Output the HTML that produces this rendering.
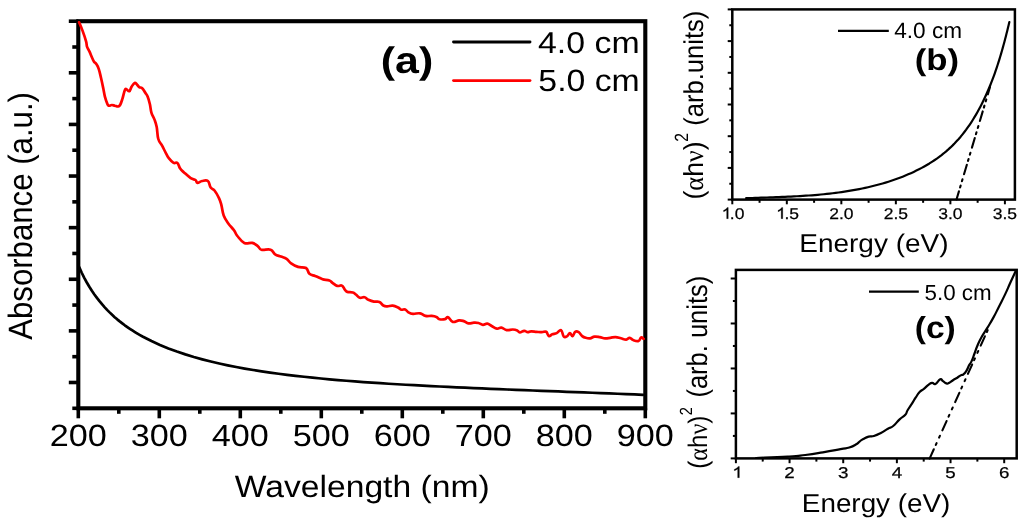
<!DOCTYPE html>
<html><head><meta charset="utf-8"><style>
html,body{margin:0;padding:0;background:#fff;overflow:hidden;}
svg{display:block;will-change:transform;}
text{font-family:"Liberation Sans", sans-serif;fill:#000;text-rendering:geometricPrecision;}
</style></head><body>
<svg width="1024" height="525" viewBox="0 0 1024 525">
<rect width="1024" height="525" fill="#fff"/>
<rect x="78.3" y="21.2" width="567" height="387.1" fill="none" stroke="#000" stroke-width="4.1"/>
<line x1="72.3" y1="408.3" x2="78.3" y2="408.3" stroke="#000" stroke-width="3.6"/>
<line x1="68.8" y1="382.49" x2="78.3" y2="382.49" stroke="#000" stroke-width="3.6"/>
<line x1="72.3" y1="356.69" x2="78.3" y2="356.69" stroke="#000" stroke-width="3.6"/>
<line x1="68.8" y1="330.88" x2="78.3" y2="330.88" stroke="#000" stroke-width="3.6"/>
<line x1="72.3" y1="305.07" x2="78.3" y2="305.07" stroke="#000" stroke-width="3.6"/>
<line x1="68.8" y1="279.27" x2="78.3" y2="279.27" stroke="#000" stroke-width="3.6"/>
<line x1="72.3" y1="253.46" x2="78.3" y2="253.46" stroke="#000" stroke-width="3.6"/>
<line x1="68.8" y1="227.65" x2="78.3" y2="227.65" stroke="#000" stroke-width="3.6"/>
<line x1="72.3" y1="201.85" x2="78.3" y2="201.85" stroke="#000" stroke-width="3.6"/>
<line x1="68.8" y1="176.04" x2="78.3" y2="176.04" stroke="#000" stroke-width="3.6"/>
<line x1="72.3" y1="150.23" x2="78.3" y2="150.23" stroke="#000" stroke-width="3.6"/>
<line x1="68.8" y1="124.43" x2="78.3" y2="124.43" stroke="#000" stroke-width="3.6"/>
<line x1="72.3" y1="98.62" x2="78.3" y2="98.62" stroke="#000" stroke-width="3.6"/>
<line x1="68.8" y1="72.81" x2="78.3" y2="72.81" stroke="#000" stroke-width="3.6"/>
<line x1="72.3" y1="47.01" x2="78.3" y2="47.01" stroke="#000" stroke-width="3.6"/>
<line x1="68.8" y1="21.2" x2="78.3" y2="21.2" stroke="#000" stroke-width="3.6"/>
<line x1="78.3" y1="408.3" x2="78.3" y2="418.3" stroke="#000" stroke-width="3.6"/>
<line x1="118.8" y1="408.3" x2="118.8" y2="413.8" stroke="#000" stroke-width="3.6"/>
<line x1="159.3" y1="408.3" x2="159.3" y2="418.3" stroke="#000" stroke-width="3.6"/>
<line x1="199.8" y1="408.3" x2="199.8" y2="413.8" stroke="#000" stroke-width="3.6"/>
<line x1="240.3" y1="408.3" x2="240.3" y2="418.3" stroke="#000" stroke-width="3.6"/>
<line x1="280.8" y1="408.3" x2="280.8" y2="413.8" stroke="#000" stroke-width="3.6"/>
<line x1="321.3" y1="408.3" x2="321.3" y2="418.3" stroke="#000" stroke-width="3.6"/>
<line x1="361.8" y1="408.3" x2="361.8" y2="413.8" stroke="#000" stroke-width="3.6"/>
<line x1="402.3" y1="408.3" x2="402.3" y2="418.3" stroke="#000" stroke-width="3.6"/>
<line x1="442.8" y1="408.3" x2="442.8" y2="413.8" stroke="#000" stroke-width="3.6"/>
<line x1="483.3" y1="408.3" x2="483.3" y2="418.3" stroke="#000" stroke-width="3.6"/>
<line x1="523.8" y1="408.3" x2="523.8" y2="413.8" stroke="#000" stroke-width="3.6"/>
<line x1="564.3" y1="408.3" x2="564.3" y2="418.3" stroke="#000" stroke-width="3.6"/>
<line x1="604.8" y1="408.3" x2="604.8" y2="413.8" stroke="#000" stroke-width="3.6"/>
<line x1="645.3" y1="408.3" x2="645.3" y2="418.3" stroke="#000" stroke-width="3.6"/>
<line x1="453.5" y1="42" x2="530" y2="42" stroke="#000" stroke-width="2.9" stroke-linecap="round"/>
<line x1="453.5" y1="80.6" x2="530" y2="80.6" stroke="#ff0000" stroke-width="2.9" stroke-linecap="round"/>
<path d="M79.1,22.3 C79.8,24.02 81.22,27.14 82.6,30.9 C83.98,34.66 85.1,37.9 86,41.1 C86.9,44.3 86.42,44.84 87.1,46.9 C87.78,48.96 88.36,49.12 89.4,51.4 C90.44,53.68 91.38,56.24 92.3,58.3 C93.22,60.36 93.2,60.56 94,61.7 C94.8,62.84 95.34,62.52 96.3,64 C97.26,65.48 97.84,66.24 98.8,69.1 C99.76,71.96 100.18,74.32 101.1,78.3 C102.02,82.28 102.64,85.34 103.4,89 C104.16,92.66 104.14,93.72 104.9,96.6 C105.66,99.48 106.44,101.58 107.2,103.4 C107.96,105.22 107.78,105.38 108.7,105.7 C109.62,106.02 110.58,105 111.8,105 C113.02,105 113.58,105.4 114.8,105.7 C116.02,106 116.84,106.64 117.9,106.5 C118.96,106.36 119.2,106.52 120.1,105 C121,103.48 121.48,101.8 122.4,98.9 C123.32,96 123.94,92.48 124.7,90.5 C125.46,88.52 125.28,88.86 126.2,89 C127.12,89.14 128.22,91.66 129.3,91.2 C130.38,90.74 130.54,88.36 131.6,86.7 C132.66,85.04 133.54,83.36 134.6,82.9 C135.66,82.44 135.98,83.56 136.9,84.4 C137.82,85.24 138.14,86.34 139.2,87.1 C140.26,87.86 140.98,87.06 142.2,88.2 C143.42,89.34 144.22,91.12 145.3,92.8 C146.38,94.48 146.68,94.32 147.6,96.6 C148.52,98.88 149.14,101 149.9,104.2 C150.66,107.4 150.5,109.56 151.4,112.6 C152.3,115.64 153.34,116.52 154.4,119.4 C155.46,122.28 155.92,123.08 156.7,127 C157.48,130.92 157.22,135.26 158.3,139 C159.38,142.74 160.56,142.84 162.1,145.7 C163.64,148.56 164.66,150.82 166,153.3 C167.34,155.78 167.28,156.18 168.8,158.1 C170.32,160.02 171.88,161.94 173.6,162.9 C175.32,163.86 176.08,161.76 177.4,162.9 C178.72,164.04 178.88,166.7 180.2,168.6 C181.52,170.5 181.9,170.5 184,172.4 C186.1,174.3 188.4,176.58 190.7,178.1 C193,179.62 194.16,179.04 195.5,180 C196.84,180.96 196.08,182.7 197.4,182.9 C198.72,183.1 200,181.38 202.1,181 C204.2,180.62 206.18,179.68 207.9,181 C209.62,182.32 209.38,185.7 210.7,187.6 C212.02,189.5 212.82,188.36 214.5,190.5 C216.18,192.64 217.72,195.38 219.1,198.3 C220.48,201.22 220.48,201.68 221.4,205.1 C222.32,208.52 222.32,211.74 223.7,215.4 C225.08,219.06 226.24,220.42 228.3,223.4 C230.36,226.38 232.18,227.78 234,230.3 C235.82,232.82 235.34,233.48 237.4,236 C239.46,238.52 241.32,241.52 244.3,242.9 C247.28,244.28 249.56,242.22 252.3,242.9 C255.04,243.58 256.18,244.94 258,246.3 C259.82,247.66 258.88,249.02 261.4,249.7 C263.92,250.38 267.86,248.78 270.6,249.7 C273.34,250.62 273.04,252.92 275.1,254.3 C277.16,255.68 278.6,255.68 280.9,256.6 C283.2,257.52 284.56,257.54 286.6,258.9 C288.64,260.26 288.82,261.8 291.1,263.4 C293.38,265 295.02,265.98 298,266.9 C300.98,267.82 303.72,266.64 306,268 C308.28,269.36 307.58,272.1 309.4,273.7 C311.22,275.3 312.98,275.12 315.1,276 C317.22,276.88 318.4,277.42 320,278.1 C321.6,278.78 321.22,278.92 323.1,279.4 C324.98,279.88 327.52,279.82 329.4,280.5 C331.28,281.18 330.94,281.72 332.5,282.8 C334.06,283.88 335.32,285.34 337.2,285.9 C339.08,286.46 340.34,284.82 341.9,285.6 C343.46,286.38 343.92,288.54 345,289.8 C346.08,291.06 345.74,291.36 347.3,291.9 C348.86,292.44 351.08,291.98 352.8,292.5 C354.52,293.02 354.5,293.46 355.9,294.5 C357.3,295.54 358.08,297.16 359.8,297.7 C361.52,298.24 362.78,296.8 364.5,297.2 C366.22,297.6 366.52,298.82 368.4,299.7 C370.28,300.58 371.7,301.16 373.9,301.6 C376.1,302.04 377.52,301.12 379.4,301.9 C381.28,302.68 381.74,304.62 383.3,305.5 C384.86,306.38 385.32,306.28 387.2,306.3 C389.08,306.32 390.52,305.36 392.7,305.6 C394.88,305.84 396.38,306.68 398.1,307.5 C399.82,308.32 399.88,309.32 401.3,309.7 C402.72,310.08 403.8,308.9 405.2,309.4 C406.6,309.9 406.74,311.32 408.3,312.2 C409.86,313.08 410.66,313.58 413,313.8 C415.34,314.02 417.5,312.88 420,313.3 C422.5,313.72 423.16,315.38 425.5,315.9 C427.84,316.42 429.52,315.7 431.7,315.9 C433.88,316.1 434.84,316.24 436.4,316.9 C437.96,317.56 437.78,318.76 439.5,319.2 C441.22,319.64 443.28,319.5 445,319.1 C446.72,318.7 446.54,316.64 448.1,317.2 C449.66,317.76 450.6,321.28 452.8,321.9 C455,322.52 456.91,320.46 459.1,320.3 C461.29,320.14 461.89,320.48 463.75,321.1 C465.61,321.72 466.37,323.08 468.4,323.4 C470.43,323.72 471.88,322.78 473.9,322.7 C475.92,322.62 476.7,322.58 478.5,323 C480.3,323.42 481.14,324.66 482.9,324.8 C484.66,324.94 485.54,323.46 487.3,323.7 C489.06,323.94 489.76,325 491.7,326 C493.64,327 495.06,328.38 497,328.7 C498.94,329.02 499.48,327.32 501.4,327.6 C503.32,327.88 504.32,329.72 506.6,330.1 C508.88,330.48 510.68,329.44 512.8,329.5 C514.92,329.56 515.8,329.8 517.2,330.4 C518.6,331 518.4,332.42 519.8,332.5 C521.2,332.58 522.62,330.86 524.2,330.8 C525.78,330.74 526.3,332.1 527.7,332.2 C529.1,332.3 529.44,331.38 531.2,331.3 C532.96,331.22 534.38,331.62 536.5,331.8 C538.62,331.98 539.86,332.2 541.8,332.2 C543.74,332.2 544.8,331.02 546.2,331.8 C547.6,332.58 547.58,335.6 548.8,336.1 C550.02,336.6 550.72,334.9 552.3,334.3 C553.88,333.7 554.94,333.94 556.7,333.1 C558.46,332.26 559.68,329.4 561.1,330.1 C562.52,330.8 562.56,335.4 563.8,336.6 C565.04,337.8 566.08,336.8 567.3,336.1 C568.52,335.4 568.84,333.1 569.9,333.1 C570.96,333.1 571.54,336.36 572.6,336.1 C573.66,335.84 573.98,332.58 575.2,331.8 C576.42,331.02 577.3,331.34 578.7,332.2 C580.1,333.06 580.8,334.98 582.2,336.1 C583.6,337.22 584.12,337.36 585.7,337.8 C587.28,338.24 588.34,338.54 590.1,338.3 C591.86,338.06 592.56,336.84 594.5,336.6 C596.44,336.36 597.68,336.76 599.8,337.1 C601.92,337.44 603,338.16 605.1,338.3 C607.2,338.44 608.2,338.04 610.3,337.8 C612.4,337.56 613.48,337 615.6,337.1 C617.72,337.2 618.78,337.8 620.9,338.3 C623.02,338.8 624.44,339.7 626.2,339.6 C627.96,339.5 628.3,337.7 629.7,337.8 C631.1,337.9 631.44,339.46 633.2,340.1 C634.96,340.74 636.92,341.52 638.5,341 C640.08,340.48 640.06,337.92 641.1,337.5 C642.14,337.08 643.18,338.62 643.7,338.9" fill="none" stroke="#ff0000" stroke-width="2.7" stroke-linejoin="round" stroke-linecap="round"/>
<polyline points="79.2,267.1 81.73,272.74 84.27,277.83 86.8,282.49 89.33,286.78 91.87,290.76 94.4,294.46 96.93,297.91 99.47,301.16 102,304.22 104.53,307.1 107.07,309.83 109.6,312.4 112.13,314.84 114.67,317.15 117.2,319.34 119.73,321.41 122.27,323.39 124.8,325.28 127.33,327.08 129.87,328.81 132.4,330.46 134.93,332.05 137.47,333.58 140,335.05 143,336.71 151.47,341.06 159.95,344.94 168.42,348.42 176.9,351.56 185.37,354.4 193.85,356.99 202.32,359.34 210.8,361.5 219.27,363.48 227.75,365.31 236.22,366.99 244.69,368.55 253.17,369.99 261.64,371.33 270.12,372.58 278.59,373.74 287.07,374.82 295.54,375.84 304.02,376.78 312.49,377.67 320.97,378.51 329.44,379.3 337.92,380.04 346.39,380.74 354.86,381.4 363.34,382.03 371.81,382.62 380.29,383.19 388.76,383.73 397.24,384.24 405.71,384.74 414.19,385.21 422.66,385.66 431.14,386.09 439.61,386.51 448.08,386.92 456.56,387.31 465.03,387.7 473.51,388.07 481.98,388.43 490.46,388.79 498.93,389.14 507.41,389.48 515.88,389.82 524.36,390.15 532.83,390.48 541.31,390.81 549.78,391.14 558.25,391.46 566.73,391.79 575.2,392.12 583.68,392.44 592.15,392.77 600.63,393.1 609.1,393.43 617.58,393.77 626.05,394.1 634.53,394.45 643,394.79" fill="none" stroke="#000" stroke-width="2.7" stroke-linejoin="round" stroke-linecap="round"/>
<rect x="732.3" y="9.4" width="282.6" height="190.2" fill="none" stroke="#000" stroke-width="2.5"/>
<line x1="727.7" y1="199.6" x2="732.3" y2="199.6" stroke="#000" stroke-width="2"/>
<line x1="729.3" y1="183.75" x2="732.3" y2="183.75" stroke="#000" stroke-width="2"/>
<line x1="727.7" y1="167.9" x2="732.3" y2="167.9" stroke="#000" stroke-width="2"/>
<line x1="729.3" y1="152.05" x2="732.3" y2="152.05" stroke="#000" stroke-width="2"/>
<line x1="727.7" y1="136.2" x2="732.3" y2="136.2" stroke="#000" stroke-width="2"/>
<line x1="729.3" y1="120.35" x2="732.3" y2="120.35" stroke="#000" stroke-width="2"/>
<line x1="727.7" y1="104.5" x2="732.3" y2="104.5" stroke="#000" stroke-width="2"/>
<line x1="729.3" y1="88.65" x2="732.3" y2="88.65" stroke="#000" stroke-width="2"/>
<line x1="727.7" y1="72.8" x2="732.3" y2="72.8" stroke="#000" stroke-width="2"/>
<line x1="729.3" y1="56.95" x2="732.3" y2="56.95" stroke="#000" stroke-width="2"/>
<line x1="727.7" y1="41.1" x2="732.3" y2="41.1" stroke="#000" stroke-width="2"/>
<line x1="729.3" y1="25.25" x2="732.3" y2="25.25" stroke="#000" stroke-width="2"/>
<line x1="727.7" y1="9.4" x2="732.3" y2="9.4" stroke="#000" stroke-width="2"/>
<line x1="732.3" y1="199.6" x2="732.3" y2="204.3" stroke="#000" stroke-width="2"/>
<line x1="759.56" y1="199.6" x2="759.56" y2="202.8" stroke="#000" stroke-width="2"/>
<line x1="786.82" y1="199.6" x2="786.82" y2="204.3" stroke="#000" stroke-width="2"/>
<line x1="814.08" y1="199.6" x2="814.08" y2="202.8" stroke="#000" stroke-width="2"/>
<line x1="841.34" y1="199.6" x2="841.34" y2="204.3" stroke="#000" stroke-width="2"/>
<line x1="868.6" y1="199.6" x2="868.6" y2="202.8" stroke="#000" stroke-width="2"/>
<line x1="895.86" y1="199.6" x2="895.86" y2="204.3" stroke="#000" stroke-width="2"/>
<line x1="923.12" y1="199.6" x2="923.12" y2="202.8" stroke="#000" stroke-width="2"/>
<line x1="950.38" y1="199.6" x2="950.38" y2="204.3" stroke="#000" stroke-width="2"/>
<line x1="977.64" y1="199.6" x2="977.64" y2="202.8" stroke="#000" stroke-width="2"/>
<line x1="1004.9" y1="199.6" x2="1004.9" y2="204.3" stroke="#000" stroke-width="2"/>
<line x1="838" y1="30.8" x2="888.8" y2="30.8" stroke="#000" stroke-width="2.2"/>
<polyline points="746.14,198.22 749.12,198.11 752.1,198.01 755.08,197.91 758.07,197.82 761.05,197.72 764.04,197.62 767.03,197.52 770.01,197.42 773,197.31 775.99,197.2 778.98,197.09 781.97,196.97 784.96,196.84 787.95,196.71 790.94,196.57 793.92,196.42 796.91,196.26 799.9,196.09 802.88,195.91 805.87,195.71 808.85,195.5 811.84,195.28 814.82,195.04 817.8,194.79 820.77,194.52 823.75,194.23 826.72,193.92 829.69,193.6 832.66,193.25 835.63,192.88 838.59,192.49 841.55,192.08 844.51,191.65 847.47,191.19 850.42,190.7 853.37,190.19 856.31,189.65 859.25,189.08 862.19,188.49 865.12,187.86 868.05,187.21 870.98,186.52 873.9,185.8 876.82,185.05 879.73,184.26 882.63,183.44 885.53,182.58 888.41,181.69 891.29,180.76 894.15,179.79 896.99,178.79 899.82,177.74 902.63,176.66 905.42,175.53 908.19,174.36 910.94,173.15 913.67,171.9 916.36,170.6 919.03,169.26 921.67,167.88 924.28,166.44 926.86,164.96 929.41,163.44 931.92,161.86 934.39,160.23 936.82,158.56 939.22,156.83 941.57,155.06 943.88,153.23 946.15,151.34 948.36,149.41 950.53,147.42 952.66,145.37 954.73,143.27 956.75,141.12 958.73,138.92 960.66,136.67 962.54,134.37 964.37,132.03 966.17,129.65 967.91,127.23 969.62,124.77 971.28,122.27 972.9,119.74 974.47,117.18 976.01,114.59 977.51,111.98 978.97,109.33 980.38,106.67 981.77,103.98 983.11,101.27 984.42,98.54 985.69,95.8 986.93,93.05 988.13,90.28 989.3,87.51 990.44,84.72 991.55,81.93 992.62,79.13 993.67,76.32 994.69,73.51 995.68,70.68 996.65,67.86 997.59,65.02 998.5,62.18 999.39,59.33 1000.26,56.48 1001.11,53.63 1001.94,50.77 1002.75,47.91 1003.54,45.04 1004.32,42.17 1005.08,39.3 1005.82,36.43 1006.55,33.55 1007.27,30.68 1007.97,27.8 1008.66,24.92 1009.35,22.05" fill="none" stroke="#000" stroke-width="2.2" stroke-linejoin="round" stroke-linecap="round"/>
<polyline points="956.5,199.5 990,87" fill="none" stroke="#000" stroke-width="2.1" stroke-linejoin="round" stroke-linecap="round" stroke-dasharray="10 4 2 4.5 2 5.3" stroke-dashoffset="1.5" stroke-linecap="butt"/>
<rect x="735.9" y="269.9" width="280.8" height="188.5" fill="none" stroke="#000" stroke-width="2.5"/>
<line x1="730.7" y1="458.4" x2="735.9" y2="458.4" stroke="#000" stroke-width="2"/>
<line x1="732.9" y1="435.91" x2="735.9" y2="435.91" stroke="#000" stroke-width="2"/>
<line x1="730.7" y1="413.42" x2="735.9" y2="413.42" stroke="#000" stroke-width="2"/>
<line x1="732.9" y1="390.94" x2="735.9" y2="390.94" stroke="#000" stroke-width="2"/>
<line x1="730.7" y1="368.45" x2="735.9" y2="368.45" stroke="#000" stroke-width="2"/>
<line x1="732.9" y1="345.96" x2="735.9" y2="345.96" stroke="#000" stroke-width="2"/>
<line x1="730.7" y1="323.48" x2="735.9" y2="323.48" stroke="#000" stroke-width="2"/>
<line x1="732.9" y1="300.99" x2="735.9" y2="300.99" stroke="#000" stroke-width="2"/>
<line x1="730.7" y1="278.5" x2="735.9" y2="278.5" stroke="#000" stroke-width="2"/>
<line x1="735.9" y1="458.4" x2="735.9" y2="463.2" stroke="#000" stroke-width="2"/>
<line x1="762.73" y1="458.4" x2="762.73" y2="461.6" stroke="#000" stroke-width="2"/>
<line x1="789.56" y1="458.4" x2="789.56" y2="463.2" stroke="#000" stroke-width="2"/>
<line x1="816.39" y1="458.4" x2="816.39" y2="461.6" stroke="#000" stroke-width="2"/>
<line x1="843.22" y1="458.4" x2="843.22" y2="463.2" stroke="#000" stroke-width="2"/>
<line x1="870.05" y1="458.4" x2="870.05" y2="461.6" stroke="#000" stroke-width="2"/>
<line x1="896.88" y1="458.4" x2="896.88" y2="463.2" stroke="#000" stroke-width="2"/>
<line x1="923.71" y1="458.4" x2="923.71" y2="461.6" stroke="#000" stroke-width="2"/>
<line x1="950.54" y1="458.4" x2="950.54" y2="463.2" stroke="#000" stroke-width="2"/>
<line x1="977.37" y1="458.4" x2="977.37" y2="461.6" stroke="#000" stroke-width="2"/>
<line x1="1004.2" y1="458.4" x2="1004.2" y2="463.2" stroke="#000" stroke-width="2"/>
<line x1="869" y1="291.7" x2="918.8" y2="291.7" stroke="#000" stroke-width="2.2"/>
<path d="M756.1,458 C764.53,457.63 774.58,457.4 787.7,456.6 C800.82,455.8 795.91,456.12 805.3,455 C814.69,453.88 813.51,453.95 822.9,452.4 C832.29,450.85 833.46,450.51 840.5,449.2 C847.54,447.89 845.09,448.81 849.3,447.5 C853.51,446.19 853.5,445.95 856.3,444.3 C859.1,442.65 857.93,442.71 859.8,441.3 C861.67,439.89 860.95,440.25 863.3,439 C865.65,437.75 865.77,437.4 868.6,436.6 C871.43,435.8 870.62,436.96 873.9,436 C877.18,435.04 877.17,434.95 880.9,433 C884.63,431.05 884.62,430.57 887.9,428.7 C891.18,426.83 890.08,428.48 893.2,426 C896.32,423.52 896.37,422.39 899.6,419.4 C902.83,416.41 903.17,417.23 905.3,414.8 C907.43,412.37 905.79,413.34 907.6,410.3 C909.41,407.26 909.97,406.76 912.1,403.4 C914.23,400.04 913.6,400.74 915.6,397.7 C917.6,394.66 917.47,394.29 919.6,392 C921.73,389.71 921.17,391.07 923.6,389.1 C926.03,387.13 926.43,386.28 928.7,384.6 C930.97,382.92 930.29,382.96 932.1,382.8 C933.91,382.64 933.37,384.91 935.5,384 C937.63,383.09 938.1,380.17 940.1,379.4 C942.1,378.63 941.32,380.03 943,381.1 C944.68,382.17 944.72,382.95 946.4,383.4 C948.08,383.85 947.46,383.71 949.3,382.8 C951.14,381.89 951.17,381.36 953.3,380 C955.43,378.64 955.33,378.93 957.3,377.7 C959.27,376.47 959.05,376.31 960.7,375.4 C962.35,374.49 961.98,375.5 963.5,374.3 C965.02,373.1 964.88,373.35 966.4,370.9 C967.92,368.45 967.84,367.63 969.2,365.1 C970.56,362.57 970.03,364.63 971.5,361.4 C972.97,358.17 973.02,357.45 974.7,353 C976.38,348.55 975.85,349.15 977.8,344.7 C979.75,340.25 979.47,340.78 982,336.3 C984.53,331.82 984.23,332.94 987.3,327.9 C990.37,322.86 990.43,323 993.5,317.4 C996.57,311.8 995.71,313.03 998.8,306.9 C1001.89,300.77 1002.03,300.83 1005.1,294.4 C1008.17,287.97 1007.5,288.96 1010.3,282.8 C1013.1,276.64 1014.19,274.37 1015.6,271.3" fill="none" stroke="#000" stroke-width="2.2" stroke-linejoin="round" stroke-linecap="round"/>
<polyline points="929.6,458.6 990,325" fill="none" stroke="#000" stroke-width="2.1" stroke-linejoin="round" stroke-linecap="round" stroke-dasharray="10.2 4.8 2 6 2 6" stroke-linecap="butt"/>
<text transform="translate(234.74,497.06) scale(1.0941,1)" font-size="30.76">Wavelength (nm)</text>
<text transform="translate(31.51,339.83) scale(1.0828,1) rotate(-90)" font-size="31.18">Absorbance (a.u.)</text>
<text transform="translate(380.78,73.45) scale(1.1588,1)" font-size="37.01" font-weight="bold">(a)</text>
<text transform="translate(537.99,52.59) scale(1.1248,1)" font-size="30.11">4.0 cm</text>
<text transform="translate(538.34,91.10) scale(1.1011,1)" font-size="30.70">5.0 cm</text>
<text transform="translate(799.22,252.36) scale(1.0885,1)" font-size="25.71">Energy (eV)</text>
<text transform="translate(894.16,38.24) scale(1.0228,1)" font-size="22.12">4.0 cm</text>
<text transform="translate(914.76,69.53) scale(1.1569,1)" font-size="30.04" font-weight="bold">(b)</text>
<text transform="translate(702.74,199.57) scale(1.0385,1) rotate(-90)" font-size="26.48">(<tspan font-family="Liberation Serif">α</tspan>h<tspan font-family="Liberation Serif">ν</tspan>)</text>
<text transform="translate(688.00,141.65) scale(1.2192,1) rotate(-90)" font-size="15.70">2</text>
<text transform="translate(703.02,125.77) scale(1.0653,1) rotate(-90)" font-size="25.59">(arb.units)</text>
<text transform="translate(801.84,512.11) scale(1.0782,1)" font-size="25.82">Energy (eV)</text>
<text transform="translate(924.57,299.75) scale(1.0281,1)" font-size="21.76">5.0 cm</text>
<text transform="translate(914.69,337.93) scale(1.1014,1)" font-size="30.51" font-weight="bold">(c)</text>
<text transform="translate(706.60,468.70) scale(1.1121,1) rotate(-90)" font-size="24.14">(<tspan font-family="Liberation Serif">α</tspan>h<tspan font-family="Liberation Serif">ν</tspan>)</text>
<text transform="translate(692.00,415.25) scale(1.2067,1) rotate(-90)" font-size="14.55">2</text>
<text transform="translate(706.76,397.60) scale(1.1193,1) rotate(-90)" font-size="25.50">(arb. units)</text>
<text transform="translate(78.30,446.09) scale(1.1174,1)" font-size="30.64" text-anchor="middle">200</text>
<text transform="translate(159.30,446.09) scale(1.1174,1)" font-size="30.64" text-anchor="middle">300</text>
<text transform="translate(240.30,446.09) scale(1.1174,1)" font-size="30.64" text-anchor="middle">400</text>
<text transform="translate(321.30,446.09) scale(1.1174,1)" font-size="30.64" text-anchor="middle">500</text>
<text transform="translate(402.30,446.09) scale(1.1174,1)" font-size="30.64" text-anchor="middle">600</text>
<text transform="translate(483.30,446.09) scale(1.1174,1)" font-size="30.64" text-anchor="middle">700</text>
<text transform="translate(564.30,446.09) scale(1.1174,1)" font-size="30.64" text-anchor="middle">800</text>
<text transform="translate(645.30,446.09) scale(1.1174,1)" font-size="30.64" text-anchor="middle">900</text>
<path transform="translate(720.17,218.63) scale(0.00852,-0.00760)" d="M763 0L947 0L947 1466L827 1466Q778 1368 663 1264Q549 1160 397 1090L397 916Q484 948 591 1011Q698 1074 763 1135Z" fill="#000" stroke="#000" stroke-width="32.9" stroke-linejoin="round"/>
<text transform="translate(729.87,218.63) scale(1.1222,1)" font-size="15.56" stroke="#000" stroke-width="0.25">.0</text>
<path transform="translate(774.69,218.63) scale(0.00852,-0.00760)" d="M763 0L947 0L947 1466L827 1466Q778 1368 663 1264Q549 1160 397 1090L397 916Q484 948 591 1011Q698 1074 763 1135Z" fill="#000" stroke="#000" stroke-width="32.9" stroke-linejoin="round"/>
<text transform="translate(784.39,218.63) scale(1.1222,1)" font-size="15.56" stroke="#000" stroke-width="0.25">.5</text>
<text transform="translate(841.34,218.63) scale(1.1222,1)" font-size="15.56" text-anchor="middle" stroke="#000" stroke-width="0.25">2.0</text>
<text transform="translate(895.86,218.63) scale(1.1222,1)" font-size="15.56" text-anchor="middle" stroke="#000" stroke-width="0.25">2.5</text>
<text transform="translate(950.38,218.63) scale(1.1222,1)" font-size="15.56" text-anchor="middle" stroke="#000" stroke-width="0.25">3.0</text>
<text transform="translate(1004.90,218.63) scale(1.1222,1)" font-size="15.56" text-anchor="middle" stroke="#000" stroke-width="0.25">3.5</text>
<path transform="translate(730.69,477.66) scale(0.00915,-0.00767)" d="M763 0L947 0L947 1466L827 1466Q778 1368 663 1264Q549 1160 397 1090L397 916Q484 948 591 1011Q698 1074 763 1135Z" fill="#000" stroke="#000" stroke-width="32.6" stroke-linejoin="round"/>
<text transform="translate(789.56,477.66) scale(1.1929,1)" font-size="15.72" text-anchor="middle" stroke="#000" stroke-width="0.25">2</text>
<text transform="translate(843.22,477.66) scale(1.1929,1)" font-size="15.72" text-anchor="middle" stroke="#000" stroke-width="0.25">3</text>
<text transform="translate(896.88,477.66) scale(1.1929,1)" font-size="15.72" text-anchor="middle" stroke="#000" stroke-width="0.25">4</text>
<text transform="translate(950.54,477.66) scale(1.1929,1)" font-size="15.72" text-anchor="middle" stroke="#000" stroke-width="0.25">5</text>
<text transform="translate(1004.20,477.66) scale(1.1929,1)" font-size="15.72" text-anchor="middle" stroke="#000" stroke-width="0.25">6</text>
</svg>
</body></html>
